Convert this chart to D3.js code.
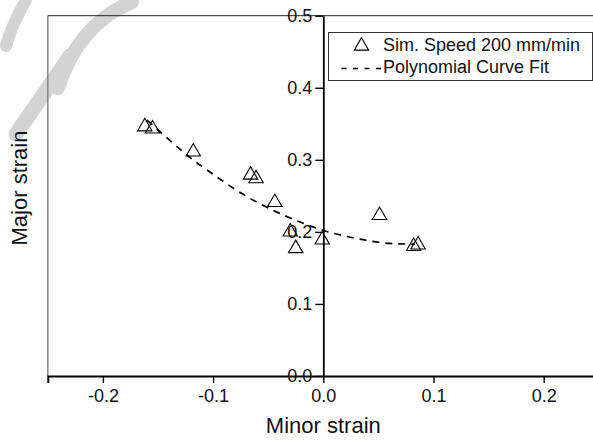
<!DOCTYPE html>
<html>
<head>
<meta charset="utf-8">
<script src="https://cdn.jsdelivr.net/npm/d3@7"></script>
<style>
  body { margin: 0; background: #fff; }
  svg { font-family: "Liberation Sans", Arial, sans-serif; }
</style>
</head>
<body>
<script>
// measured points, minor strain (x) vs major strain (y)
const minorStrain = [-0.162, -0.155, -0.118, -0.066, -0.061, -0.044, -0.030, -0.025, -0.001, 0.051, 0.082, 0.086];
const majorStrain = [0.346, 0.343, 0.311, 0.279, 0.274, 0.241, 0.200, 0.177, 0.189, 0.223, 0.180, 0.182];

// dashed fit curve
const fitX = [-0.160, -0.140, -0.120, -0.100, -0.080, -0.060, -0.040, -0.020, 0.000, 0.020, 0.040, 0.060, 0.083];
const fitY = [0.355, 0.328, 0.302, 0.280, 0.259, 0.241, 0.226, 0.213, 0.202, 0.194, 0.188, 0.184, 0.183];

const xTicks = [-0.2, -0.1, 0.0, 0.1, 0.2];
const yTicks = [0.0, 0.1, 0.2, 0.3, 0.4, 0.5];
const legendLabels = ["Sim. Speed 200 mm/min", "Polynomial Curve Fit"];

const width = 593, height = 443;
const svg = d3.select("body").append("svg").attr("width", width).attr("height", height);

// faint watermark strokes in the top left corner
const wm = svg.append("g")
    .attr("fill", "none")
    .attr("stroke", "#d3d3d3")
    .attr("stroke-linecap", "round");
wm.append("path").attr("d", "M26,0 C18,14 10,30 6,46").attr("stroke-width", 12);
wm.append("path").attr("d", "M16,134 L70,56").attr("stroke-width", 15);
wm.append("path").attr("d", "M58,88 C72,44 98,16 132,2").attr("stroke-width", 14);

const fmt = d => d3.format(".1f")(d).replace("−", "-");

const x = d3.scaleLinear().domain([-0.25, 0.25]).range([47.8, 598.8]);
const y = d3.scaleLinear().domain([0, 0.5]).range([376, 15.7]);

// frame: grey left edge, top edge
svg.append("line")
    .attr("x1", x(-0.25)).attr("x2", x(-0.25))
    .attr("y1", y(0.5)).attr("y2", y(0))
    .attr("stroke", "#8a8a8a").attr("stroke-width", 1.6);
svg.append("line")
    .attr("x1", x(-0.25)).attr("x2", width)
    .attr("y1", y(0.5)).attr("y2", y(0.5))
    .attr("stroke", "#222").attr("stroke-width", 1);

// x axis along y = 0
const xAxis = svg.append("g").attr("transform", `translate(0,${y(0)})`);
xAxis.call(d3.axisBottom(x).tickValues(d3.range(-0.25, 0.26, 0.05)).tickSize(6).tickFormat(""));
xAxis.call(d3.axisBottom(x).tickValues(xTicks).tickSize(7).tickPadding(6).tickFormat(fmt));
xAxis.selectAll(".domain").attr("stroke", "#000").attr("stroke-width", 2);
xAxis.selectAll(".tick line").attr("stroke", "#000").attr("stroke-width", 1.4);
xAxis.selectAll("text").attr("font-size", 18).attr("fill", "#111")
    .attr("font-family", "Liberation Sans, Arial, sans-serif");

// y axis along x = 0
const yAxis = svg.append("g").attr("transform", `translate(${x(0)},0)`);
yAxis.call(d3.axisLeft(y).tickValues(d3.range(0.05, 0.5, 0.1)).tickSize(4).tickSizeOuter(0).tickFormat(""));
yAxis.call(d3.axisLeft(y).tickValues(yTicks).tickSize(8).tickSizeOuter(0).tickPadding(3).tickFormat(fmt));
yAxis.selectAll(".domain").attr("stroke", "#000").attr("stroke-width", 1.8);
yAxis.selectAll(".tick line").attr("stroke", "#000").attr("stroke-width", 1.4);
yAxis.selectAll("text").attr("font-size", 18).attr("fill", "#111")
    .attr("font-family", "Liberation Sans, Arial, sans-serif");

// fit curve
const fitData = fitX.map((d, i) => [d, fitY[i]]);
svg.append("path")
    .datum(fitData)
    .attr("d", d3.line().x(d => x(d[0])).y(d => y(d[1])).curve(d3.curveMonotoneX))
    .attr("fill", "none")
    .attr("stroke", "#000")
    .attr("stroke-width", 1.7)
    .attr("stroke-dasharray", "7,6");

// open triangles
const tri = d3.symbol().type(d3.symbolTriangle).size(90);
svg.selectAll("path.pt")
    .data(minorStrain)
    .enter().append("path")
    .attr("class", "pt")
    .attr("d", tri)
    .attr("transform", (d, i) => `translate(${x(d)},${y(majorStrain[i])})`)
    .attr("fill", "none")
    .attr("stroke", "#000")
    .attr("stroke-width", 1.1);

// legend
const lg = svg.append("g");
lg.append("rect")
    .attr("x", 328.5).attr("y", 32.5).attr("width", 264).attr("height", 48)
    .attr("fill", "#fff").attr("stroke", "#333").attr("stroke-width", 1);
lg.append("path")
    .attr("d", tri)
    .attr("transform", "translate(361.5,46)")
    .attr("fill", "none").attr("stroke", "#000").attr("stroke-width", 1.1);
lg.append("line")
    .attr("x1", 341.5).attr("x2", 383).attr("y1", 68.5).attr("y2", 68.5)
    .attr("stroke", "#000").attr("stroke-width", 1.6).attr("stroke-dasharray", "5,6.5");
lg.selectAll("text")
    .data(legendLabels)
    .enter().append("text")
    .attr("x", 383)
    .attr("y", (d, i) => 46 + i * 22.5)
    .attr("dominant-baseline", "middle")
    .attr("font-size", 18)
    .attr("fill", "#111")
    .text(d => d);

// axis titles
svg.append("text")
    .attr("x", x(0)).attr("y", 433)
    .attr("text-anchor", "middle")
    .attr("font-size", 22)
    .attr("fill", "#111")
    .text("Minor strain");
svg.append("text")
    .attr("transform", "translate(27,188) rotate(-90)")
    .attr("text-anchor", "middle")
    .attr("font-size", 22)
    .attr("fill", "#111")
    .text("Major strain");
</script>
</body>
</html>
